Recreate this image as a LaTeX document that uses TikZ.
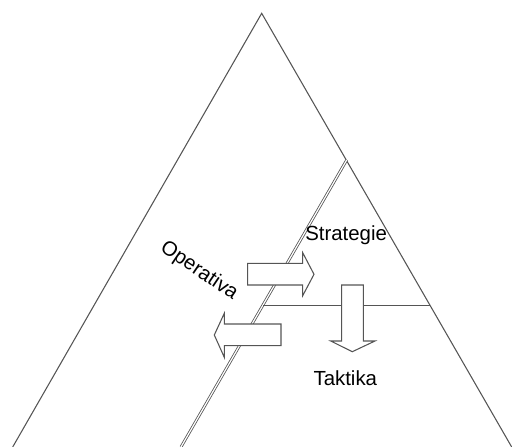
\documentclass[tikz,border=0pt]{standalone}
\usepackage{fontspec}
\setmainfont{Liberation Sans}
\definecolor{edge}{RGB}{85,85,85}
\tikzset{
  outline/.style={draw=edge, line width=0.8pt},
  blockarrow/.style={draw=edge, line width=0.8pt, fill=white, line join=miter},
  label/.style={font=\fontsize{15.3pt}{18pt}\selectfont, text=black, inner sep=0pt}
}
\begin{document}
\begin{tikzpicture}[x=0.75pt,y=-0.75pt]
  \useasboundingbox (0,0) rectangle (512,447);
  \begin{scope}
    \clip (0,0) rectangle (512,447);
    % outer triangle
    \draw[outline, line join=miter] (12.7,447) -- (261.7,13.3) -- (511.7,447);
    % double dividing line
    \draw[edge, line width=0.6pt, double=white, double distance=0.9pt] (346.7,160) -- (181,447);
    % horizontal divider
    \draw[outline] (263,305.5) -- (430.1,305.5);
  \end{scope}
  % block arrows
  \draw[blockarrow] (247.7,263.3) -- (302.7,263.3) -- (302.7,252.7) -- (314,274.3)
     -- (302.7,295.7) -- (302.7,285) -- (247.7,285) -- cycle;
  \draw[blockarrow] (281,324) -- (224.3,324) -- (224.3,313.3) -- (214.3,335)
     -- (224.3,357.3) -- (224.3,345.7) -- (281,345.7) -- cycle;
  \draw[blockarrow] (341.7,285) -- (363.3,285) -- (363.3,341) -- (375,341)
     -- (352.3,351.7) -- (330.7,341) -- (341.7,341) -- cycle;
  % labels
  \node[label, anchor=base west] (strategie) at (305,240) {Strategie};
  \node[label, anchor=base west] (taktika) at (313.3,385) {Taktika};
  \node[label, rotate=-34] (operativa) at (199,271) {Operativa};
\end{tikzpicture}
\end{document}
